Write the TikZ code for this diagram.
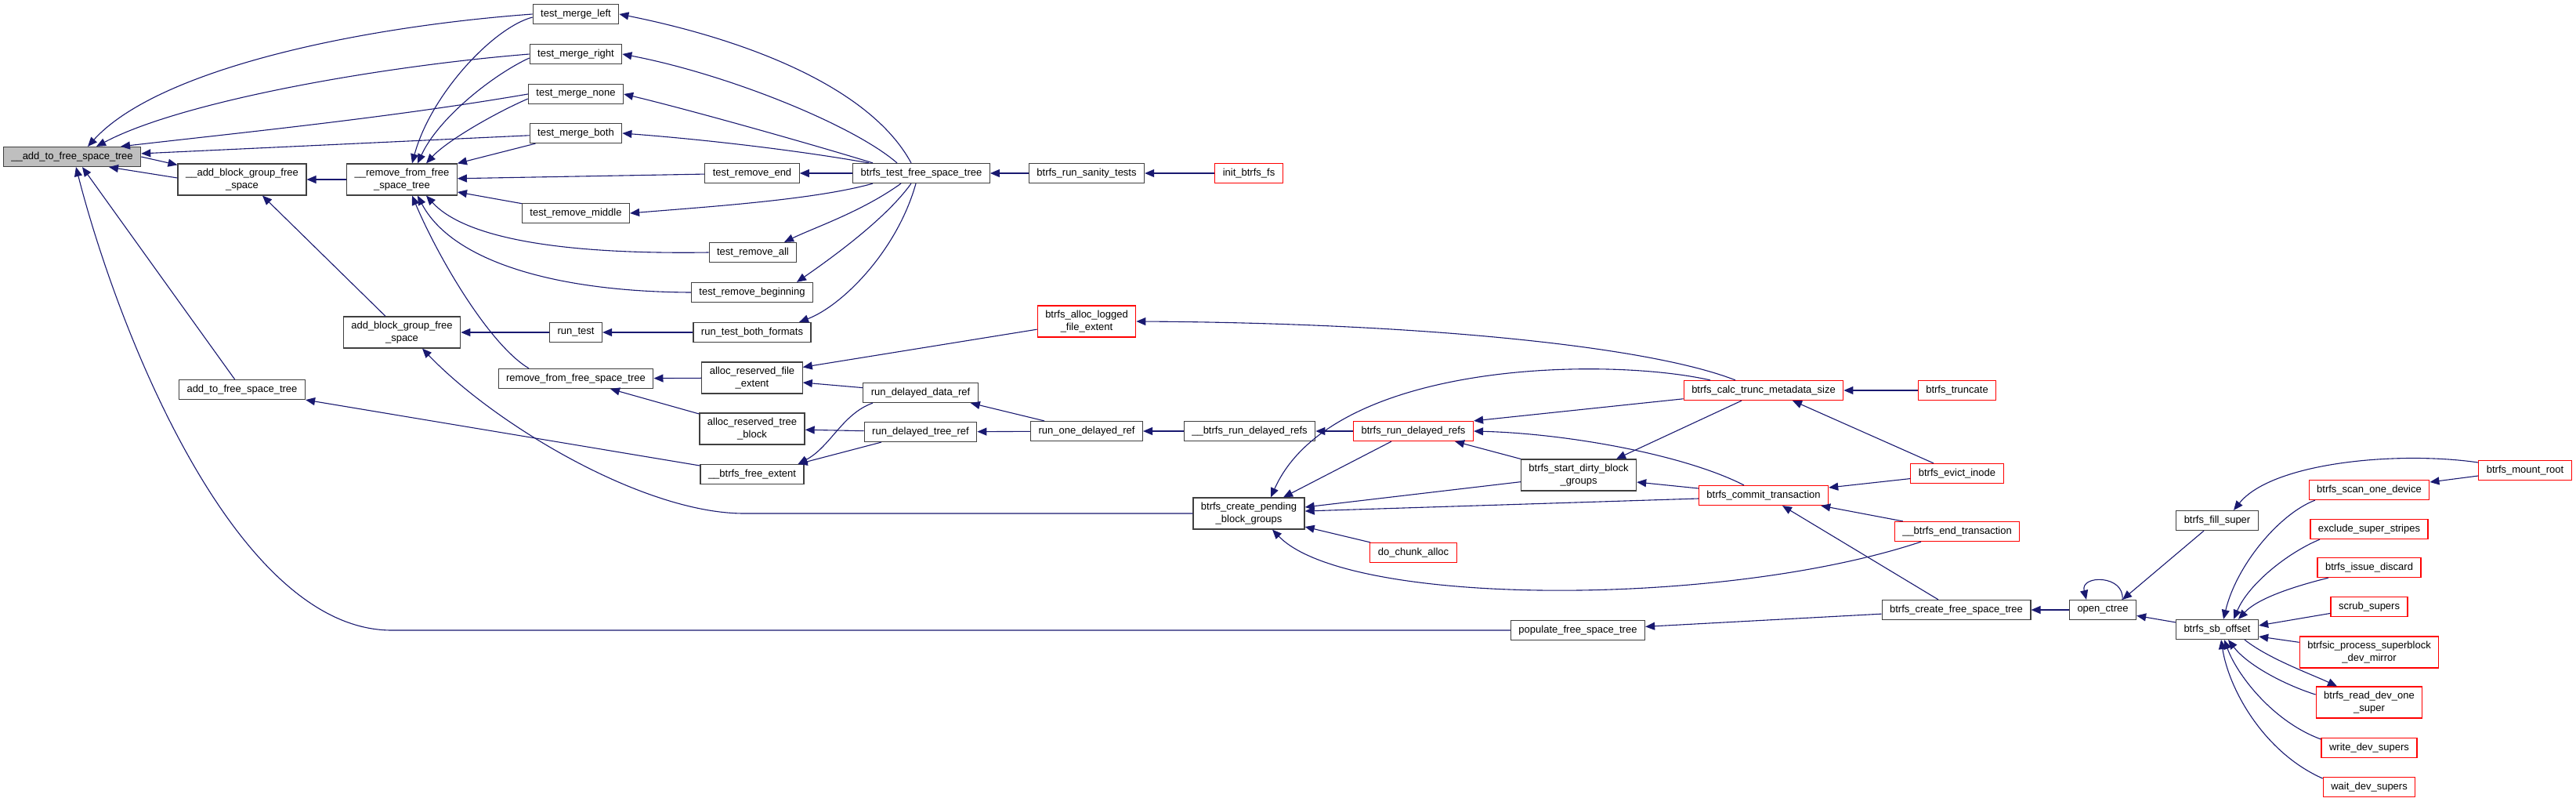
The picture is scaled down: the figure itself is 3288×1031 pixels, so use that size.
\documentclass[tikz,border=0pt]{standalone}
\usepackage{fontspec}
\setmainfont{Liberation Sans}
\usepackage{tikz}
\usetikzlibrary{arrows.meta}
\definecolor{callblue}{HTML}{191970}
\tikzset{
  fn/.style={rectangle,draw=black!75,fill=white,line width=1.2pt,inner xsep=10pt,inner ysep=2pt,
    minimum height=25pt,align=center,font=\fontsize{13}{15.5}\selectfont},
  fnred/.style={fn,draw=red},
  fnroot/.style={fn,fill=black!25},
  two/.style={minimum height=40pt},
  call/.style={-{Triangle[length=12pt,width=10pt]},draw=callblue,line width=1.1pt},
}

\begin{document}
\begin{tikzpicture}[x=1pt,y=-1pt]
  \useasboundingbox (0,0) rectangle (3288,1031);
  % free space tree helpers
  \node[fnroot] (a2f) at (92,200) {\_\_add\_to\_free\_space\_tree};
  \node[fn,two] (abgi) at (309,229) {\_\_add\_block\_group\_free\\\_space};
  \node[fn,two] (rfsi) at (513,229) {\_\_remove\_from\_free\\\_space\_tree};
  \node[fn] (a2fo) at (309,497) {add\_to\_free\_space\_tree};
  \node[fn,two] (abg) at (513,424) {add\_block\_group\_free\\\_space};
  % tests
  \node[fn] (tml) at (735,18) {test\_merge\_left};
  \node[fn] (tmr) at (735,69) {test\_merge\_right};
  \node[fn] (tmn) at (735,120) {test\_merge\_none};
  \node[fn] (tmb) at (735,170) {test\_merge\_both};
  \node[fn] (trmid) at (735,272) {test\_remove\_middle};
  \node[fn] (runtest) at (735,424) {run\_test};
  \node[fn] (rfs) at (735,483) {remove\_from\_free\_space\_tree};
  \node[fn] (tre) at (960,221) {test\_remove\_end};
  \node[fn] (tra) at (961,322) {test\_remove\_all};
  \node[fn] (trb) at (960,373) {test\_remove\_beginning};
  \node[fn] (rtbf) at (960,424) {run\_test\_both\_formats};
  \node[fn] (tfst) at (1176,221) {btrfs\_test\_free\_space\_tree};
  \node[fn] (sanity) at (1387,221) {btrfs\_run\_sanity\_tests};
  \node[fnred] (initfs) at (1594,221) {init\_btrfs\_fs};
  % extent / delayed refs
  \node[fn,two] (arfe) at (960,482) {alloc\_reserved\_file\\\_extent};
  \node[fn,two] (artb) at (960,547) {alloc\_reserved\_tree\\\_block};
  \node[fn] (bfe) at (960,605) {\_\_btrfs\_free\_extent};
  \node[fnred,two] (logged) at (1387,410) {btrfs\_alloc\_logged\\\_file\_extent};
  \node[fn] (rddr) at (1175,501) {run\_delayed\_data\_ref};
  \node[fn] (rdtr) at (1175,551) {run\_delayed\_tree\_ref};
  \node[fn] (rodr) at (1387,550) {run\_one\_delayed\_ref};
  \node[fn] (ubrdr) at (1595,550) {\_\_btrfs\_run\_delayed\_refs};
  \node[fn,two] (cpbg) at (1594,655) {btrfs\_create\_pending\\\_block\_groups};
  \node[fnred] (brdr) at (1804,550) {btrfs\_run\_delayed\_refs};
  \node[fnred] (dca) at (1804,705) {do\_chunk\_alloc};
  \node[fn,two] (sdbg) at (2015,606) {btrfs\_start\_dirty\_block\\\_groups};
  \node[fn] (pfst) at (2014,804) {populate\_free\_space\_tree};
  % transactions
  \node[fnred] (calc) at (2251,498) {btrfs\_calc\_trunc\_metadata\_size};
  \node[fnred] (commit) at (2251,632) {btrfs\_commit\_transaction};
  \node[fnred] (trunc) at (2498,498) {btrfs\_truncate};
  \node[fnred] (evict) at (2498,604) {btrfs\_evict\_inode};
  \node[fnred] (endtr) at (2498,678) {\_\_btrfs\_end\_transaction};
  \node[fn] (cfst) at (2497,778) {btrfs\_create\_free\_space\_tree};
  % mount / super
  \node[fn] (octree) at (2684,778) {open\_ctree};
  \node[fn] (fill) at (2830,664) {btrfs\_fill\_super};
  \node[fn] (sboff) at (2830,803) {btrfs\_sb\_offset};
  \node[fnred] (mount) at (3223,600) {btrfs\_mount\_root};
  \node[fnred] (scan) at (3024,625) {btrfs\_scan\_one\_device};
  \node[fnred] (excl) at (3024,675) {exclude\_super\_stripes};
  \node[fnred] (discard) at (3024,724) {btrfs\_issue\_discard};
  \node[fnred] (scrub) at (3024,774) {scrub\_supers};
  \node[fnred,two] (btrfsic) at (3024,832) {btrfsic\_process\_superblock\\\_dev\_mirror};
  \node[fnred,two] (readdev) at (3024,896) {btrfs\_read\_dev\_one\\\_super};
  \node[fnred] (wrdev) at (3024,954) {write\_dev\_supers};
  \node[fnred] (wtdev) at (3024,1004) {wait\_dev\_supers};

  % callers of __add_to_free_space_tree
  \draw[call] (tml.west) .. controls (450,35) and (200,90) .. ([xshift=20pt]a2f.north);
  \draw[call] (tmr.west) .. controls (480,85) and (230,130) .. ([xshift=31pt]a2f.north);
  \draw[call] (tmn.west) .. controls (500,150) and (300,170) .. ([xshift=62pt]a2f.north);
  \draw[call] (tmb) -- (a2f);
  \draw[call] (a2f.east) -- ([yshift=-2pt]abgi.north west);
  \draw[call] ([yshift=2pt]abgi.west) -- ([xshift=47pt]a2f.south);
  \draw[call] (a2fo) -- ([xshift=13pt]a2f.south);
  \draw[call] (pfst.west) -- (500,804) .. controls (300,804) and (150,420) .. ([xshift=5pt]a2f.south);
  % callers of the helpers
  \draw[call] (rfsi) -- (abgi);
  \draw[call] (abg) -- ([xshift=26pt]abgi.south);
  \draw[call] ([yshift=-4pt]tml.west) .. controls (630,35) and (550,120) .. ([xshift=13pt]rfsi.north);
  \draw[call] ([yshift=-5pt]tmr.west) .. controls (630,95) and (560,150) .. ([xshift=20pt]rfsi.north);
  \draw[call] ([yshift=-6pt]tmn.west) .. controls (630,145) and (570,180) .. ([xshift=31pt]rfsi.north);
  \draw[call] (tmb) -- (rfsi.north east);
  \draw[call] (tre) -- (rfsi);
  \draw[call] (trmid) -- ([yshift=-16pt]rfsi.east);
  \draw[call] (tra.west) .. controls (700,325) and (590,300) .. ([xshift=31pt]rfsi.south);
  \draw[call] (trb.west) .. controls (700,372) and (575,330) .. ([xshift=20pt]rfsi.south);
  \draw[call] ([xshift=-60pt]rfs.north) .. controls (625,440) and (560,330) .. ([xshift=13pt]rfsi.south);
  \draw[call] (runtest) -- (abg);
  \draw[call] (cpbg.west) -- (950,655) .. controls (820,655) and (630,540) .. ([xshift=26pt]abg.south);
  \draw[call] (arfe) -- (rfs);
  \draw[call] (artb) -- ([xshift=44pt]rfs.south);
  \draw[call] (bfe) -- (a2fo.south east);
  \draw[call] (rtbf) -- (runtest);
  % btrfs_test_free_space_tree
  \draw[call] ([xshift=-13pt]tfst.north) .. controls (1110,110) and (950,50) .. (tml.east);
  \draw[call] ([xshift=-31pt]tfst.north) .. controls (1090,160) and (930,95) .. (tmr.east);
  \draw[call] ([xshift=-62pt]tfst.north) .. controls (1040,185) and (880,140) .. (tmn.east);
  \draw[call] ([xshift=-67pt]tfst.north) .. controls (1020,192) and (900,178) .. (tmb.east);
  \draw[call] (tfst) -- (tre);
  \draw[call] ([xshift=-62pt]tfst.south) .. controls (1040,255) and (900,264) .. (trmid.east);
  \draw[call] ([xshift=-26pt]tfst.south) .. controls (1100,270) and (1040,290) .. ([xshift=40pt]tra.north);
  \draw[call] ([xshift=-13pt]tfst.south) .. controls (1130,280) and (1060,330) .. ([xshift=57pt]trb.north);
  \draw[call] ([xshift=-7pt]tfst.south) .. controls (1145,320) and (1075,390) .. ([xshift=60pt]rtbf.north);
  \draw[call] (sanity) -- (tfst);
  \draw[call] (initfs) -- (sanity);
  % delayed refs
  \draw[call] (logged) -- ([yshift=-7pt]arfe.north east);
  \draw[call] (rddr) -- ([yshift=-6pt]arfe.east);
  \draw[call] ([xshift=-61pt]rddr.south) .. controls (1075,528) and (1060,570) .. ([xshift=-8pt]bfe.north east);
  \draw[call] (rdtr) -- ([xshift=-8pt]bfe.north east);
  \draw[call] (rdtr) -- (artb);
  \draw[call] (rodr) -- ([xshift=-10pt]rddr.south east);
  \draw[call] (rodr) -- (rdtr);
  \draw[call] (ubrdr) -- (rodr);
  \draw[call] (brdr) -- (ubrdr);
  % transactions
  \draw[call] ([xshift=-36pt]calc.north) .. controls (2100,440) and (1800,412) .. (logged.east);
  \draw[call] ([xshift=-68pt]calc.north) .. controls (2050,455) and (1700,460) .. ([xshift=28pt]cpbg.north);
  \draw[call] (calc) -- (brdr.north east);
  \draw[call] ([xshift=-28pt]brdr.south) -- ([xshift=44pt]cpbg.north);
  \draw[call] (sdbg.north west) -- ([xshift=53pt]brdr.south);
  \draw[call] ([xshift=-25pt]commit.north) .. controls (2150,580) and (2000,553) .. (brdr.east);
  \draw[call] ([xshift=-28pt]calc.south) -- ([xshift=48pt]sdbg.north);
  \draw[call] (sdbg) -- ([yshift=8pt]cpbg.east);
  \draw[call] ([yshift=9pt]commit.west) -- ([yshift=-9pt]sdbg.east);
  \draw[call] ([yshift=-4pt]commit.west) -- ([yshift=3pt]cpbg.east);
  \draw[call] (dca) -- ([yshift=-17pt]cpbg.east);
  \draw[call] ([xshift=-46pt]endtr.south) .. controls (2200,775) and (1720,775) .. ([xshift=30pt]cpbg.south);
  \draw[call] (evict) -- ([yshift=10pt]commit.east);
  \draw[call] (endtr) -- ([xshift=-10pt]commit.south east);
  \draw[call] ([xshift=-23pt]cfst.north) -- ([xshift=24pt]commit.south);
  \draw[call] (trunc) -- (calc);
  \draw[call] ([xshift=-30pt]evict.north) -- ([xshift=37pt]calc.south);
  \draw[call] (cfst) -- (pfst);
  \draw[call] (octree) -- (cfst);
  % open_ctree and super block
  \draw[call] ([xshift=25pt]octree.north) .. controls (2712,733) and (2655,733) .. ([xshift=-21pt]octree.north);
  \draw[call] ([xshift=-17pt]fill.south) -- ([xshift=25pt]octree.north);
  \draw[call] (sboff) -- (octree);
  \draw[call] ([yshift=10pt]mount.west) .. controls (3060,575) and (2900,590) .. ([xshift=21pt]fill.north);
  \draw[call] ([yshift=-7pt]mount.west) -- ([yshift=10pt]scan.east);
  \draw[call] ([xshift=-69pt]scan.south) .. controls (2910,655) and (2855,720) .. ([xshift=8pt]sboff.north);
  \draw[call] ([xshift=-63pt]excl.south) .. controls (2920,705) and (2870,745) .. ([xshift=21pt]sboff.north);
  \draw[call] ([xshift=-52pt]discard.south) .. controls (2920,750) and (2880,765) .. ([xshift=27pt]sboff.north);
  \draw[call] (scrub) -- ([yshift=-8pt]sboff.north east);
  \draw[call] (btrfsic) -- ([yshift=-9pt]sboff.east);
  \draw[call] ([xshift=35pt]sboff.south) .. controls (2895,840) and (2950,860) .. ([xshift=-41pt]readdev.north);
  \draw[call] ([yshift=10pt]readdev.west) .. controls (2920,875) and (2870,850) .. ([xshift=14pt]sboff.south);
  \draw[call] ([yshift=11pt]wrdev.west) .. controls (2900,920) and (2855,860) .. ([xshift=9pt]sboff.south);
  \draw[call] ([yshift=11pt]wtdev.west) .. controls (2890,960) and (2845,880) .. ([xshift=5pt]sboff.south);
\end{tikzpicture}
\end{document}
